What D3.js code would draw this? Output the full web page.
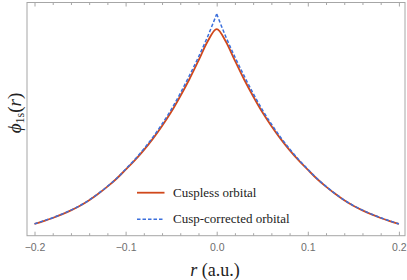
<!DOCTYPE html>
<html>
<head>
<meta charset="utf-8">
<script src="https://cdn.jsdelivr.net/npm/d3@7.9.0/dist/d3.min.js"></script>
</head>
<body style="margin:0">
<svg id="chart" width="407" height="280" font-family="Liberation Serif"></svg>
<script>
// ---------- Data ----------
const rValues = [
  -0.20, -0.19, -0.18, -0.17, -0.16, -0.15, -0.14, -0.13, -0.12, -0.11,
  -0.10, -0.09, -0.08, -0.07, -0.06, -0.05, -0.04, -0.03, -0.02, -0.01,
  0.00,
  0.01, 0.02, 0.03, 0.04, 0.05, 0.06, 0.07, 0.08, 0.09, 0.10,
  0.11, 0.12, 0.13, 0.14, 0.15, 0.16, 0.17, 0.18, 0.19, 0.20
];

const cusplessOrbital = [
  0.122, 0.134, 0.147, 0.162, 0.179, 0.198, 0.221, 0.248, 0.278, 0.311,
  0.349, 0.388, 0.431, 0.479, 0.532, 0.590, 0.656, 0.727, 0.805, 0.885,
  0.937,
  0.885, 0.805, 0.727, 0.656, 0.590, 0.532, 0.479, 0.431, 0.388, 0.349,
  0.311, 0.278, 0.248, 0.221, 0.198, 0.179, 0.162, 0.147, 0.134, 0.122
];

const cuspCorrectedOrbital = [
  0.1225, 0.135, 0.148, 0.163, 0.180, 0.199, 0.222, 0.249, 0.279, 0.312,
  0.351, 0.391, 0.436, 0.485, 0.540, 0.600, 0.668, 0.742, 0.820, 0.905,
  1.000,
  0.905, 0.820, 0.742, 0.668, 0.600, 0.540, 0.485, 0.436, 0.391, 0.351,
  0.312, 0.279, 0.249, 0.222, 0.199, 0.180, 0.163, 0.148, 0.135, 0.1225
];

const majorTicks = [-0.2, -0.1, 0.0, 0.1, 0.2];
const tickLabels = ["\u22120.2", "\u22120.1", "0.0", "0.1", "0.2"];
const minorTicks = [
  -0.18, -0.16, -0.14, -0.12, -0.08, -0.06, -0.04, -0.02,
  0.02, 0.04, 0.06, 0.08, 0.12, 0.14, 0.16, 0.18
];

const seriesNames = ["Cuspless orbital", "Cusp-corrected orbital"];

// ---------- Layout ----------
const frame = { left: 27, right: 405, top: 2.5, bottom: 235.7 };

const red = "#d0481c";
const blue = "#3b6fdc";
const frameColor = "#a6a6a6";

const svg = d3.select("#chart");

const xScale = d3.scaleLinear().domain([-0.2, 0.2]).range([34.5, 398.9]);
const yScale = d3.scaleLinear().domain([0.073, 1.048]).range([frame.bottom, frame.top]);

// ---------- Frame + ticks ----------
svg.append("rect")
  .attr("x", frame.left)
  .attr("y", frame.top)
  .attr("width", frame.right - frame.left)
  .attr("height", frame.bottom - frame.top)
  .attr("fill", "none")
  .attr("stroke", frameColor)
  .attr("stroke-width", 1);

// bottom: major ticks with labels
const xAxis = svg.append("g")
  .attr("transform", `translate(0, ${frame.bottom})`)
  .call(
    d3.axisBottom(xScale)
      .tickValues(majorTicks)
      .tickSize(-4)
      .tickPadding(8)
      .tickFormat((d, i) => tickLabels[i])
  );
xAxis.attr("font-family", "Liberation Sans").attr("font-size", 10.5);
xAxis.select(".domain").remove();
xAxis.selectAll(".tick line").attr("stroke", frameColor);
xAxis.selectAll(".tick text").attr("fill", "#6e6e6e");

// bottom: minor ticks
svg.append("g")
  .attr("transform", `translate(0, ${frame.bottom})`)
  .call(d3.axisBottom(xScale).tickValues(minorTicks).tickSize(-2.5).tickFormat(""))
  .call((g) => g.select(".domain").remove())
  .call((g) => g.selectAll("line").attr("stroke", frameColor));

// top: major + minor ticks, no labels
svg.append("g")
  .attr("transform", `translate(0, ${frame.top})`)
  .call(d3.axisTop(xScale).tickValues(majorTicks).tickSize(-4).tickFormat(""))
  .call((g) => g.select(".domain").remove())
  .call((g) => g.selectAll("line").attr("stroke", frameColor));

svg.append("g")
  .attr("transform", `translate(0, ${frame.top})`)
  .call(d3.axisTop(xScale).tickValues(minorTicks).tickSize(-2.5).tickFormat(""))
  .call((g) => g.select(".domain").remove())
  .call((g) => g.selectAll("line").attr("stroke", frameColor));

// ---------- Curves ----------
const line = d3.line()
  .x((d) => xScale(d[0]))
  .y((d) => yScale(d[1]))
  .curve(d3.curveMonotoneX);

const cuspless = rValues.map((r, i) => [r, cusplessOrbital[i]]);
const corrected = rValues.map((r, i) => [r, cuspCorrectedOrbital[i]]);

svg.append("path")
  .datum(cuspless)
  .attr("d", line)
  .attr("fill", "none")
  .attr("stroke", red)
  .attr("stroke-width", 1.8);

// cusp-corrected has a kink at r = 0, draw each side separately
[corrected.filter((d) => d[0] <= 0), corrected.filter((d) => d[0] >= 0)].forEach((half) => {
  svg.append("path")
    .datum(half)
    .attr("d", line)
    .attr("fill", "none")
    .attr("stroke", blue)
    .attr("stroke-width", 1.5)
    .attr("stroke-dasharray", "3.5,2");
});

// ---------- Legend ----------
const legendRows = [
  { name: seriesNames[0], color: red, dash: null, width: 1.8, y: 192.7 },
  { name: seriesNames[1], color: blue, dash: "3.5,2", width: 1.5, y: 219.3 },
];
legendRows.forEach((row) => {
  svg.append("line")
    .attr("x1", 137).attr("x2", 164.5)
    .attr("y1", row.y).attr("y2", row.y)
    .attr("stroke", row.color)
    .attr("stroke-width", row.width)
    .attr("stroke-dasharray", row.dash);
  svg.append("text")
    .attr("x", 173)
    .attr("y", row.y + 4)
    .attr("fill", "#222")
    .attr("font-family", "Liberation Serif")
    .attr("font-size", 13)
    .text(row.name);
});

// ---------- Axis titles ----------
const xTitle = svg.append("text")
  .attr("x", 215)
  .attr("y", 276)
  .attr("text-anchor", "middle")
  .attr("fill", "#222")
  .attr("font-family", "Liberation Serif")
  .attr("font-size", 18);
xTitle.append("tspan").attr("font-style", "italic").text("r");
xTitle.append("tspan").text(" (a.u.)");

const yTitle = svg.append("text")
  .attr("transform", "translate(21, 113) rotate(-90)")
  .attr("text-anchor", "middle")
  .attr("fill", "#222")
  .attr("font-family", "Liberation Serif")
  .attr("font-size", 19);
yTitle.append("tspan").attr("font-style", "italic").text("\u03d5");
yTitle.append("tspan").attr("dy", 3).attr("font-size", 12).text("1s");
yTitle.append("tspan").attr("dy", -3).text("(");
yTitle.append("tspan").attr("font-style", "italic").text("r");
yTitle.append("tspan").text(")");
</script>
</body>
</html>
